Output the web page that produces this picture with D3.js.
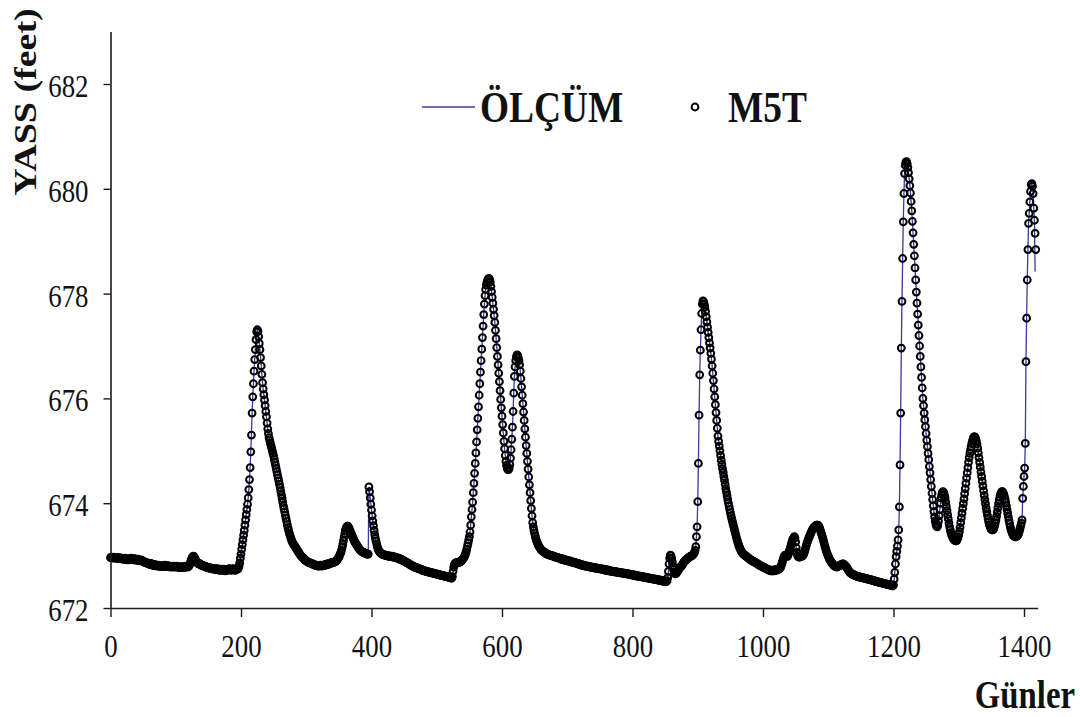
<!DOCTYPE html>
<html>
<head>
<meta charset="utf-8">
<script src="https://cdn.jsdelivr.net/npm/d3@7"></script>
<style>
  html, body { margin: 0; padding: 0; background: #ffffff; }
  svg { display: block; }
</style>
</head>
<body>
<svg id="chart" width="1080" height="717"></svg>
<script>
// Axis ticks
const xTicks = [0, 200, 400, 600, 800, 1000, 1200, 1400];
const yTicks = [672, 674, 676, 678, 680, 682];
const seriesNames = ["ÖLÇÜM", "M5T"];

// Measured lake level (feet), one value per day starting at day 0
const olcum = [
672.96,672.97,672.96,672.95,672.96,672.97,672.96,672.95,672.95,672.96,
672.96,672.95,672.94,672.95,672.96,672.95,672.94,672.94,672.95,672.94,
672.93,672.94,672.95,672.94,672.93,672.92,672.93,672.94,672.93,672.92,
672.93,672.94,672.95,672.94,672.93,672.92,672.93,672.94,672.93,672.92,
672.91,672.92,672.93,672.92,672.91,672.90,672.91,672.92,672.91,672.90,
672.89,672.88,672.87,672.88,672.87,672.86,672.85,672.86,672.85,672.84,
672.83,672.84,672.85,672.84,672.83,672.82,672.81,672.82,672.83,672.82,
672.81,672.80,672.81,672.82,672.81,672.80,672.79,672.80,672.81,672.80,
672.79,672.80,672.81,672.82,672.81,672.80,672.79,672.80,672.81,672.80,
672.80,672.79,672.78,672.79,672.80,672.79,672.78,672.79,672.80,672.79,
672.78,672.79,672.80,672.79,672.78,672.77,672.78,672.79,672.78,672.77,
672.78,672.79,672.78,672.77,672.78,672.79,672.80,672.79,672.78,672.79,
672.80,672.82,672.85,672.89,672.93,672.96,672.98,672.99,672.98,672.96,
672.93,672.90,672.88,672.86,672.85,672.84,672.85,672.84,672.83,672.82,
672.81,672.82,672.81,672.80,672.79,672.80,672.79,672.78,672.77,672.78,
672.77,672.76,672.77,672.76,672.75,672.76,672.75,672.74,672.75,672.74,
672.75,672.74,672.73,672.74,672.75,672.74,672.73,672.72,672.73,672.74,
672.73,672.72,672.73,672.74,672.73,672.72,672.71,672.72,672.73,672.72,
672.73,672.74,672.75,672.74,672.73,672.72,672.73,672.74,672.75,672.74,
672.73,672.72,672.73,672.74,672.75,672.74,672.76,672.80,672.86,672.95,
673.03,673.12,673.21,673.30,673.39,673.48,673.58,673.68,673.78,673.88,
673.98,674.10,674.26,674.45,674.68,674.98,675.30,675.72,676.03,676.28,
676.52,676.74,676.93,677.12,677.27,677.31,677.28,677.18,677.05,676.93,
676.78,676.62,676.46,676.30,676.18,676.07,675.97,675.86,675.75,675.65,
675.53,675.42,675.33,675.25,675.20,675.15,675.10,675.05,675.00,674.95,
674.90,674.84,674.78,674.72,674.66,674.60,674.54,674.48,674.42,674.36,
674.30,674.23,674.16,674.09,674.02,673.95,673.89,673.83,673.77,673.71,
673.65,673.59,673.53,673.48,673.43,673.39,673.35,673.31,673.28,673.25,
673.23,673.21,673.19,673.17,673.15,673.13,673.11,673.09,673.07,673.05,
673.03,673.01,673.00,672.98,672.97,672.96,672.95,672.93,672.92,672.91,
672.90,672.89,672.88,672.87,672.87,672.86,672.86,672.85,672.85,672.84,
672.84,672.83,672.83,672.82,672.82,672.81,672.82,672.81,672.80,672.81,
672.80,672.81,672.82,672.81,672.80,672.81,672.82,672.81,672.82,672.83,
672.82,672.83,672.84,672.83,672.84,672.85,672.84,672.85,672.86,672.87,
672.86,672.87,672.87,672.88,672.88,672.89,672.90,672.91,672.93,672.95,
672.97,673.00,673.03,673.06,673.10,673.15,673.21,673.28,673.35,673.42,
673.48,673.52,673.55,673.56,673.56,673.54,673.51,673.48,673.45,673.42,
673.39,673.36,673.33,673.30,673.27,673.25,673.23,673.21,673.19,673.17,
673.15,673.13,673.12,673.10,673.09,673.08,673.07,673.06,673.06,673.05,
673.05,673.04,673.04,673.03,673.03,673.03,674.31,674.22,674.10,673.98,
673.87,673.76,673.66,673.57,673.48,673.40,673.33,673.27,673.22,673.17,
673.13,673.10,673.08,673.06,673.05,673.04,673.03,673.03,673.02,673.02,
673.01,673.01,673.00,673.00,673.00,672.99,673.00,672.99,672.98,672.99,
672.98,672.99,672.98,672.97,672.98,672.97,672.96,672.97,672.96,672.95,
672.95,672.94,672.95,672.94,672.93,672.92,672.93,672.92,672.91,672.90,
672.90,672.89,672.88,672.87,672.87,672.86,672.85,672.84,672.84,672.83,
672.82,672.82,672.81,672.80,672.80,672.79,672.78,672.78,672.77,672.77,
672.76,672.76,672.75,672.75,672.74,672.74,672.73,672.73,672.72,672.72,
672.72,672.71,672.71,672.70,672.70,672.70,672.69,672.69,672.69,672.68,
672.68,672.68,672.67,672.67,672.67,672.66,672.66,672.66,672.65,672.65,
672.65,672.64,672.64,672.64,672.63,672.63,672.63,672.62,672.62,672.62,
672.62,672.61,672.61,672.61,672.60,672.60,672.60,672.59,672.59,672.59,
672.58,672.58,672.57,672.57,672.60,672.70,672.78,672.83,672.85,672.86,
672.86,672.87,672.86,672.87,672.88,672.87,672.88,672.89,672.90,672.92,
672.93,672.95,672.97,673.00,673.03,673.07,673.12,673.18,673.24,673.30,
673.36,673.45,673.58,673.74,673.88,674.02,674.20,674.38,674.57,674.76,
674.96,675.17,675.40,675.62,675.84,676.06,676.28,676.50,676.72,676.94,
677.16,677.38,677.60,677.80,677.96,678.08,678.16,678.22,678.26,678.28,
678.29,678.27,678.22,678.14,678.04,677.93,677.82,677.70,677.58,677.45,
677.30,677.14,676.97,676.80,676.64,676.48,676.32,676.15,675.98,675.82,
675.66,675.50,675.34,675.18,675.04,674.91,674.80,674.72,674.67,674.64,
674.64,674.67,674.74,674.86,675.02,675.22,675.45,675.75,676.10,676.42,
676.60,676.72,676.79,676.83,676.82,676.78,676.72,676.64,676.52,676.38,
676.22,676.06,675.90,675.74,675.58,675.42,675.26,675.10,674.95,674.80,
674.65,674.50,674.35,674.20,674.05,673.90,673.76,673.63,673.55,673.48,
673.42,673.37,673.32,673.28,673.25,673.22,673.19,673.17,673.15,673.13,
673.11,673.10,673.09,673.08,673.07,673.06,673.05,673.04,673.04,673.03,
673.03,673.02,673.02,673.01,673.01,673.00,673.00,673.00,672.99,672.99,
672.98,672.98,672.97,672.97,672.96,672.96,672.96,672.95,672.95,672.94,
672.94,672.93,672.94,672.93,672.92,672.93,672.92,672.91,672.92,672.91,
672.90,672.91,672.90,672.89,672.90,672.89,672.88,672.88,672.87,672.88,
672.87,672.86,672.87,672.86,672.85,672.85,672.84,672.85,672.84,672.83,
672.83,672.82,672.83,672.82,672.81,672.82,672.81,672.80,672.81,672.80,
672.80,672.79,672.80,672.79,672.78,672.79,672.78,672.78,672.77,672.78,
672.77,672.77,672.76,672.77,672.76,672.76,672.75,672.76,672.75,672.75,
672.75,672.74,672.75,672.74,672.74,672.73,672.74,672.73,672.73,672.72,
672.73,672.72,672.72,672.71,672.72,672.71,672.71,672.70,672.71,672.70,
672.70,672.70,672.69,672.70,672.69,672.69,672.68,672.69,672.68,672.68,
672.68,672.67,672.68,672.67,672.67,672.66,672.67,672.66,672.66,672.66,
672.65,672.66,672.65,672.65,672.64,672.65,672.64,672.64,672.63,672.64,
672.63,672.63,672.62,672.63,672.62,672.62,672.61,672.62,672.61,672.61,
672.61,672.60,672.61,672.60,672.60,672.59,672.60,672.59,672.59,672.58,
672.59,672.58,672.58,672.57,672.58,672.57,672.57,672.56,672.57,672.56,
672.56,672.55,672.56,672.55,672.55,672.54,672.55,672.54,672.54,672.53,
672.54,672.53,672.53,672.52,672.53,672.52,672.52,672.51,672.52,672.51,
672.51,672.50,672.51,672.52,672.58,672.70,672.84,672.95,673.01,673.00,
672.95,672.88,672.80,672.73,672.68,672.66,672.65,672.66,672.68,672.70,
672.72,672.74,672.76,672.78,672.79,672.80,672.82,672.84,672.86,672.88,
672.90,672.91,672.92,672.93,672.94,672.95,672.96,672.97,672.98,672.99,
672.99,673.00,673.01,673.02,673.04,673.06,673.10,673.17,673.36,673.55,
674.03,674.76,675.68,676.45,676.92,677.31,677.62,677.80,677.86,677.84,
677.80,677.74,677.66,677.56,677.46,677.36,677.26,677.16,677.06,676.96,
676.86,676.75,676.62,676.48,676.34,676.18,676.03,675.88,675.73,675.58,
675.43,675.28,675.18,675.09,675.00,674.91,674.82,674.74,674.66,674.59,
674.51,674.44,674.36,674.28,674.21,674.14,674.07,674.00,673.94,673.88,
673.82,673.76,673.71,673.66,673.61,673.56,673.51,673.46,673.41,673.36,
673.31,673.27,673.23,673.19,673.16,673.13,673.10,673.08,673.06,673.04,
673.03,673.02,673.01,673.00,672.99,672.98,672.97,672.96,672.95,672.94,
672.93,672.92,672.91,672.91,672.90,672.89,672.88,672.88,672.87,672.86,
672.85,672.85,672.84,672.83,672.82,672.82,672.81,672.80,672.80,672.79,
672.78,672.78,672.77,672.76,672.76,672.75,672.74,672.74,672.73,672.73,
672.72,672.72,672.71,672.71,672.72,672.71,672.72,672.71,672.72,672.73,
672.72,672.73,672.74,672.73,672.74,672.75,672.76,672.78,672.81,672.85,
672.89,672.93,672.97,673.00,673.01,673.00,672.99,672.98,673.00,673.03,
673.07,673.11,673.15,673.20,673.25,673.29,673.32,673.34,673.36,673.34,
673.26,673.15,673.06,673.00,672.98,672.97,672.97,672.98,672.98,672.99,
672.99,673.00,673.02,673.05,673.09,673.13,673.18,673.22,673.26,673.30,
673.33,673.36,673.39,673.42,673.45,673.48,673.50,673.52,673.54,673.55,
673.56,673.57,673.58,673.58,673.58,673.57,673.55,673.52,673.48,673.44,
673.40,673.36,673.32,673.27,673.22,673.17,673.13,673.09,673.05,673.02,
672.99,672.96,672.93,672.91,672.89,672.87,672.85,672.84,672.82,672.81,
672.80,672.79,672.79,672.78,672.79,672.80,672.80,672.81,672.82,672.82,
672.83,672.83,672.84,672.84,672.83,672.82,672.81,672.80,672.78,672.76,
672.74,672.72,672.70,672.68,672.67,672.66,672.65,672.64,672.64,672.63,
672.63,672.62,672.62,672.61,672.61,672.60,672.60,672.60,672.59,672.59,
672.59,672.58,672.58,672.58,672.57,672.57,672.57,672.56,672.56,672.56,
672.55,672.55,672.55,672.54,672.54,672.54,672.53,672.53,672.53,672.52,
672.52,672.52,672.51,672.51,672.51,672.50,672.50,672.50,672.49,672.49,
672.49,672.48,672.48,672.48,672.47,672.47,672.47,672.46,672.46,672.46,
672.45,672.45,672.45,672.44,672.44,672.44,672.43,672.43,672.43,672.42,
672.44,672.55,672.68,672.84,672.98,673.08,673.18,673.30,673.49,673.93,
674.73,675.72,676.96,677.85,678.67,679.37,679.91,680.29,680.45,680.51,
680.52,680.48,680.41,680.31,680.19,680.06,679.92,679.76,679.58,679.38,
679.16,678.94,678.72,678.49,678.26,678.03,677.82,677.61,677.40,677.20,
677.00,676.80,676.60,676.40,676.20,676.00,675.86,675.72,675.59,675.46,
675.33,675.20,675.08,674.95,674.83,674.70,674.58,674.45,674.32,674.19,
674.07,673.95,673.84,673.74,673.66,673.60,673.56,673.55,673.58,673.66,
673.76,673.88,674.00,674.10,674.17,674.21,674.22,674.20,674.16,674.10,
674.02,673.94,673.86,673.78,673.70,673.62,673.55,673.49,673.44,673.40,
673.37,673.34,673.32,673.30,673.29,673.28,673.28,673.29,673.31,673.35,
673.40,673.46,673.54,673.63,673.72,673.81,673.90,673.99,674.08,674.18,
674.28,674.38,674.48,674.58,674.68,674.78,674.87,674.95,675.02,675.08,
675.14,675.19,675.23,675.26,675.27,675.26,675.23,675.19,675.13,675.05,
674.96,674.87,674.78,674.69,674.60,674.51,674.42,674.33,674.24,674.15,
674.07,673.99,673.91,673.84,673.77,673.70,673.64,673.59,673.55,673.52,
673.50,673.49,673.49,673.50,673.53,673.57,673.62,673.68,673.75,673.83,
673.91,673.99,674.06,674.12,674.17,674.20,674.22,674.22,674.20,674.17,
674.13,674.08,674.02,673.95,673.88,673.81,673.74,673.67,673.61,673.55,
673.50,673.46,673.43,673.40,673.38,673.37,673.36,673.36,673.36,673.37,
673.38,673.40,673.43,673.47,673.52,673.57,673.62,673.68,674.09,674.32,
674.51,674.67,675.14,676.70,677.53,678.26,678.84,679.34,679.53,679.75,
679.95,680.08,680.10,680.05,679.91,679.63,679.40,678.42
];

// M5T model output (feet), one value per day starting at day 0
const m5t = [
672.96,672.97,672.96,672.95,672.96,672.97,672.96,672.95,672.95,672.96,
672.96,672.95,672.94,672.95,672.96,672.95,672.94,672.94,672.95,672.94,
672.93,672.94,672.95,672.94,672.93,672.92,672.93,672.94,672.93,672.92,
672.93,672.94,672.95,672.94,672.93,672.92,672.93,672.94,672.93,672.92,
672.91,672.92,672.93,672.92,672.91,672.90,672.91,672.92,672.91,672.90,
672.89,672.88,672.87,672.88,672.87,672.86,672.85,672.86,672.85,672.84,
672.83,672.84,672.85,672.84,672.83,672.82,672.81,672.82,672.83,672.82,
672.81,672.80,672.81,672.82,672.81,672.80,672.79,672.80,672.81,672.80,
672.79,672.80,672.81,672.82,672.81,672.80,672.79,672.80,672.81,672.80,
672.80,672.79,672.78,672.79,672.80,672.79,672.78,672.79,672.80,672.79,
672.78,672.79,672.80,672.79,672.78,672.77,672.78,672.79,672.78,672.77,
672.78,672.79,672.78,672.77,672.78,672.79,672.80,672.79,672.78,672.79,
672.80,672.82,672.85,672.89,672.93,672.96,672.98,672.99,672.98,672.96,
672.93,672.90,672.88,672.86,672.85,672.84,672.85,672.84,672.83,672.82,
672.81,672.82,672.81,672.80,672.79,672.80,672.79,672.78,672.77,672.78,
672.77,672.76,672.77,672.76,672.75,672.76,672.75,672.74,672.75,672.74,
672.75,672.74,672.73,672.74,672.75,672.74,672.73,672.72,672.73,672.74,
672.73,672.72,672.73,672.74,672.73,672.72,672.71,672.72,672.73,672.72,
672.73,672.74,672.75,672.74,672.73,672.72,672.73,672.74,672.75,672.74,
672.73,672.72,672.73,672.74,672.75,672.74,672.76,672.80,672.86,672.95,
673.03,673.12,673.21,673.30,673.39,673.48,673.58,673.68,673.78,673.88,
673.98,674.10,674.26,674.45,674.68,674.98,675.30,675.72,676.03,676.28,
676.52,676.74,676.93,677.12,677.27,677.31,677.28,677.18,677.05,676.93,
676.78,676.62,676.46,676.30,676.18,676.07,675.97,675.86,675.75,675.65,
675.53,675.42,675.33,675.25,675.20,675.15,675.10,675.05,675.00,674.95,
674.90,674.84,674.78,674.72,674.66,674.60,674.54,674.48,674.42,674.36,
674.30,674.23,674.16,674.09,674.02,673.95,673.89,673.83,673.77,673.71,
673.65,673.59,673.53,673.48,673.43,673.39,673.35,673.31,673.28,673.25,
673.23,673.21,673.19,673.17,673.15,673.13,673.11,673.09,673.07,673.05,
673.03,673.01,673.00,672.98,672.97,672.96,672.95,672.93,672.92,672.91,
672.90,672.89,672.88,672.87,672.87,672.86,672.86,672.85,672.85,672.84,
672.84,672.83,672.83,672.82,672.82,672.81,672.82,672.81,672.80,672.81,
672.80,672.81,672.82,672.81,672.80,672.81,672.82,672.81,672.82,672.83,
672.82,672.83,672.84,672.83,672.84,672.85,672.84,672.85,672.86,672.87,
672.86,672.87,672.87,672.88,672.88,672.89,672.90,672.91,672.93,672.95,
672.97,673.00,673.03,673.06,673.10,673.15,673.21,673.28,673.35,673.42,
673.48,673.52,673.55,673.56,673.56,673.54,673.51,673.48,673.45,673.42,
673.39,673.36,673.33,673.30,673.27,673.25,673.23,673.21,673.19,673.17,
673.15,673.13,673.12,673.10,673.09,673.08,673.07,673.06,673.06,673.05,
673.05,673.04,673.04,673.03,673.03,673.03,674.31,674.22,674.10,673.98,
673.87,673.76,673.66,673.57,673.48,673.40,673.33,673.27,673.22,673.17,
673.13,673.10,673.08,673.06,673.05,673.04,673.03,673.03,673.02,673.02,
673.01,673.01,673.00,673.00,673.00,672.99,673.00,672.99,672.98,672.99,
672.98,672.99,672.98,672.97,672.98,672.97,672.96,672.97,672.96,672.95,
672.95,672.94,672.95,672.94,672.93,672.92,672.93,672.92,672.91,672.90,
672.90,672.89,672.88,672.87,672.87,672.86,672.85,672.84,672.84,672.83,
672.82,672.82,672.81,672.80,672.80,672.79,672.78,672.78,672.77,672.77,
672.76,672.76,672.75,672.75,672.74,672.74,672.73,672.73,672.72,672.72,
672.72,672.71,672.71,672.70,672.70,672.70,672.69,672.69,672.69,672.68,
672.68,672.68,672.67,672.67,672.67,672.66,672.66,672.66,672.65,672.65,
672.65,672.64,672.64,672.64,672.63,672.63,672.63,672.62,672.62,672.62,
672.62,672.61,672.61,672.61,672.60,672.60,672.60,672.59,672.59,672.59,
672.58,672.58,672.57,672.57,672.60,672.70,672.78,672.83,672.85,672.86,
672.86,672.87,672.86,672.87,672.88,672.87,672.88,672.89,672.90,672.92,
672.93,672.95,672.97,673.00,673.03,673.07,673.12,673.18,673.24,673.30,
673.36,673.45,673.58,673.74,673.88,674.02,674.20,674.38,674.57,674.76,
674.96,675.17,675.40,675.62,675.84,676.06,676.28,676.50,676.72,676.94,
677.16,677.38,677.60,677.80,677.96,678.08,678.16,678.22,678.26,678.28,
678.29,678.27,678.22,678.14,678.04,677.93,677.82,677.70,677.58,677.45,
677.30,677.14,676.97,676.80,676.64,676.48,676.32,676.15,675.98,675.82,
675.66,675.50,675.34,675.18,675.04,674.91,674.80,674.72,674.67,674.64,
674.64,674.67,674.74,674.86,675.02,675.22,675.45,675.75,676.10,676.42,
676.60,676.72,676.79,676.83,676.82,676.78,676.72,676.64,676.52,676.38,
676.22,676.06,675.90,675.74,675.58,675.42,675.26,675.10,674.95,674.80,
674.65,674.50,674.35,674.20,674.05,673.90,673.76,673.63,673.55,673.48,
673.42,673.37,673.32,673.28,673.25,673.22,673.19,673.17,673.15,673.13,
673.11,673.10,673.09,673.08,673.07,673.06,673.05,673.04,673.04,673.03,
673.03,673.02,673.02,673.01,673.01,673.00,673.00,673.00,672.99,672.99,
672.98,672.98,672.97,672.97,672.96,672.96,672.96,672.95,672.95,672.94,
672.94,672.93,672.94,672.93,672.92,672.93,672.92,672.91,672.92,672.91,
672.90,672.91,672.90,672.89,672.90,672.89,672.88,672.88,672.87,672.88,
672.87,672.86,672.87,672.86,672.85,672.85,672.84,672.85,672.84,672.83,
672.83,672.82,672.83,672.82,672.81,672.82,672.81,672.80,672.81,672.80,
672.80,672.79,672.80,672.79,672.78,672.79,672.78,672.78,672.77,672.78,
672.77,672.77,672.76,672.77,672.76,672.76,672.75,672.76,672.75,672.75,
672.75,672.74,672.75,672.74,672.74,672.73,672.74,672.73,672.73,672.72,
672.73,672.72,672.72,672.71,672.72,672.71,672.71,672.70,672.71,672.70,
672.70,672.70,672.69,672.70,672.69,672.69,672.68,672.69,672.68,672.68,
672.68,672.67,672.68,672.67,672.67,672.66,672.67,672.66,672.66,672.66,
672.65,672.66,672.65,672.65,672.64,672.65,672.64,672.64,672.63,672.64,
672.63,672.63,672.62,672.63,672.62,672.62,672.61,672.62,672.61,672.61,
672.61,672.60,672.61,672.60,672.60,672.59,672.60,672.59,672.59,672.58,
672.59,672.58,672.58,672.57,672.58,672.57,672.57,672.56,672.57,672.56,
672.56,672.55,672.56,672.55,672.55,672.54,672.55,672.54,672.54,672.53,
672.54,672.53,672.53,672.52,672.53,672.52,672.52,672.51,672.52,672.51,
672.51,672.50,672.51,672.52,672.58,672.70,672.84,672.95,673.01,673.00,
672.95,672.88,672.80,672.73,672.68,672.66,672.65,672.66,672.68,672.70,
672.72,672.74,672.76,672.78,672.79,672.80,672.82,672.84,672.86,672.88,
672.90,672.91,672.92,672.93,672.94,672.95,672.96,672.97,672.98,672.99,
672.99,673.00,673.01,673.02,673.04,673.06,673.10,673.17,673.36,673.55,
674.03,674.76,675.68,676.45,676.92,677.31,677.62,677.80,677.86,677.84,
677.80,677.74,677.66,677.56,677.46,677.36,677.26,677.16,677.06,676.96,
676.86,676.75,676.62,676.48,676.34,676.18,676.03,675.88,675.73,675.58,
675.43,675.28,675.18,675.09,675.00,674.91,674.82,674.74,674.66,674.59,
674.51,674.44,674.36,674.28,674.21,674.14,674.07,674.00,673.94,673.88,
673.82,673.76,673.71,673.66,673.61,673.56,673.51,673.46,673.41,673.36,
673.31,673.27,673.23,673.19,673.16,673.13,673.10,673.08,673.06,673.04,
673.03,673.02,673.01,673.00,672.99,672.98,672.97,672.96,672.95,672.94,
672.93,672.92,672.91,672.91,672.90,672.89,672.88,672.88,672.87,672.86,
672.85,672.85,672.84,672.83,672.82,672.82,672.81,672.80,672.80,672.79,
672.78,672.78,672.77,672.76,672.76,672.75,672.74,672.74,672.73,672.73,
672.72,672.72,672.71,672.71,672.72,672.71,672.72,672.71,672.72,672.73,
672.72,672.73,672.74,672.73,672.74,672.75,672.76,672.78,672.81,672.85,
672.89,672.93,672.97,673.00,673.01,673.00,672.99,672.98,673.00,673.03,
673.07,673.11,673.15,673.20,673.25,673.29,673.32,673.34,673.36,673.34,
673.26,673.15,673.06,673.00,672.98,672.97,672.97,672.98,672.98,672.99,
672.99,673.00,673.02,673.05,673.09,673.13,673.18,673.22,673.26,673.30,
673.33,673.36,673.39,673.42,673.45,673.48,673.50,673.52,673.54,673.55,
673.56,673.57,673.58,673.58,673.58,673.57,673.55,673.52,673.48,673.44,
673.40,673.36,673.32,673.27,673.22,673.17,673.13,673.09,673.05,673.02,
672.99,672.96,672.93,672.91,672.89,672.87,672.85,672.84,672.82,672.81,
672.80,672.79,672.79,672.78,672.79,672.80,672.80,672.81,672.82,672.82,
672.83,672.83,672.84,672.84,672.83,672.82,672.81,672.80,672.78,672.76,
672.74,672.72,672.70,672.68,672.67,672.66,672.65,672.64,672.64,672.63,
672.63,672.62,672.62,672.61,672.61,672.60,672.60,672.60,672.59,672.59,
672.59,672.58,672.58,672.58,672.57,672.57,672.57,672.56,672.56,672.56,
672.55,672.55,672.55,672.54,672.54,672.54,672.53,672.53,672.53,672.52,
672.52,672.52,672.51,672.51,672.51,672.50,672.50,672.50,672.49,672.49,
672.49,672.48,672.48,672.48,672.47,672.47,672.47,672.46,672.46,672.46,
672.45,672.45,672.45,672.44,672.44,672.44,672.43,672.43,672.43,672.42,
672.44,672.55,672.68,672.84,672.98,673.08,673.18,673.30,673.49,673.93,
674.73,675.72,676.96,677.85,678.67,679.37,679.91,680.29,680.45,680.51,
680.52,680.48,680.41,680.31,680.19,680.06,679.92,679.76,679.58,679.38,
679.16,678.94,678.72,678.49,678.26,678.03,677.82,677.61,677.40,677.20,
677.00,676.80,676.60,676.40,676.20,676.00,675.86,675.72,675.59,675.46,
675.33,675.20,675.08,674.95,674.83,674.70,674.58,674.45,674.32,674.19,
674.07,673.95,673.84,673.74,673.66,673.60,673.56,673.55,673.58,673.66,
673.76,673.88,674.00,674.10,674.17,674.21,674.22,674.20,674.16,674.10,
674.02,673.94,673.86,673.78,673.70,673.62,673.55,673.49,673.44,673.40,
673.37,673.34,673.32,673.30,673.29,673.28,673.28,673.29,673.31,673.35,
673.40,673.46,673.54,673.63,673.72,673.81,673.90,673.99,674.08,674.18,
674.28,674.38,674.48,674.58,674.68,674.78,674.87,674.95,675.02,675.08,
675.14,675.19,675.23,675.26,675.27,675.26,675.23,675.19,675.13,675.05,
674.96,674.87,674.78,674.69,674.60,674.51,674.42,674.33,674.24,674.15,
674.07,673.99,673.91,673.84,673.77,673.70,673.64,673.59,673.55,673.52,
673.50,673.49,673.49,673.50,673.53,673.57,673.62,673.68,673.75,673.83,
673.91,673.99,674.06,674.12,674.17,674.20,674.22,674.22,674.20,674.17,
674.13,674.08,674.02,673.95,673.88,673.81,673.74,673.67,673.61,673.55,
673.50,673.46,673.43,673.40,673.38,673.37,673.36,673.36,673.36,673.37,
673.38,673.40,673.43,673.47,673.52,673.57,673.62,673.68,674.09,674.32,
674.51,674.67,675.14,676.70,677.53,678.26,678.84,679.34,679.53,679.75,
679.95,680.08,680.10,680.05,679.91,679.63,679.40,679.15,678.84
];

const svg = d3.select("#chart");
const serif = "'Liberation Serif','Times New Roman',Times,serif";
const lineColor = "#3a3aa0";
const squeeze = 0.84; // narrow glyph proportions of the figure's type
const markerR = 3.4;
const markerW = 2.0;

const x = d3.scaleLinear().domain([0, 1421]).range([110.5, 1037.7]);
const y = d3.scaleLinear().domain([672, 683]).range([608, 31.6]);

// Measured series as a thin line
svg.append("path")
  .datum(olcum)
  .attr("fill", "none")
  .attr("stroke", lineColor)
  .attr("stroke-width", 1.3)
  .attr("d", d3.line().x((d, i) => x(i)).y(d => y(d)));

// Model series as open circles
svg.append("g")
  .selectAll("circle")
  .data(m5t)
  .join("circle")
  .attr("cx", (d, i) => x(i))
  .attr("cy", d => y(d))
  .attr("r", markerR)
  .attr("fill", "none")
  .attr("stroke", "#000")
  .attr("stroke-width", markerW);

// X axis
const gx = svg.append("g")
  .attr("transform", `translate(0,${y(672)})`)
  .call(d3.axisBottom(x).tickValues(xTicks).tickSize(9).tickSizeOuter(0).tickFormat(d3.format("d")));

// Y axis
const gy = svg.append("g")
  .attr("transform", `translate(${x(0)},0)`)
  .call(d3.axisLeft(y).tickValues(yTicks).tickSize(7).tickSizeOuter(0).tickFormat(d3.format("d")));

[gx, gy].forEach(g => {
  g.select(".domain").attr("stroke", "#1a1a1a").attr("stroke-width", 1.6);
  g.selectAll(".tick line").attr("stroke", "#1a1a1a").attr("stroke-width", 1.4);
  g.selectAll(".tick text")
    .attr("fill", "#111")
    .style("font-family", serif)
    .style("font-size", "32px");
});

gx.selectAll(".tick text")
  .attr("y", 49).attr("dy", 0)
  .attr("transform", `scale(${squeeze},1)`);

gy.selectAll(".tick text")
  .attr("x", -22 / squeeze).attr("dy", 0).attr("y", 12.5)
  .attr("transform", `scale(${squeeze},1)`);

// Axis titles
svg.append("g")
  .attr("transform", "translate(36,102) rotate(-90) scale(1,0.85)")
  .append("text")
  .attr("text-anchor", "middle")
  .style("font-family", serif)
  .style("font-weight", "bold")
  .style("font-size", "38px")
  .attr("fill", "#111")
  .text("YASS (feet)");

svg.append("g")
  .attr("transform", "translate(1075,708) scale(0.82,1)")
  .append("text")
  .attr("text-anchor", "end")
  .style("font-family", serif)
  .style("font-weight", "bold")
  .style("font-size", "40px")
  .attr("fill", "#111")
  .text("Günler");

// Legend
const legend = svg.append("g");
legend.append("line")
  .attr("x1", 422).attr("x2", 475).attr("y1", 107).attr("y2", 107)
  .attr("stroke", lineColor).attr("stroke-width", 1.3);
legend.append("g")
  .attr("transform", `translate(480,122) scale(0.85,1)`)
  .append("text")
  .style("font-family", serif).style("font-weight", "bold").style("font-size", "44px")
  .attr("fill", "#111")
  .text(seriesNames[0]);
legend.append("circle")
  .attr("cx", 695).attr("cy", 107).attr("r", markerR)
  .attr("fill", "none").attr("stroke", "#000").attr("stroke-width", markerW);
legend.append("g")
  .attr("transform", `translate(728,122) scale(0.85,1)`)
  .append("text")
  .style("font-family", serif).style("font-weight", "bold").style("font-size", "44px")
  .attr("fill", "#111")
  .text(seriesNames[1]);
</script>
</body>
</html>
